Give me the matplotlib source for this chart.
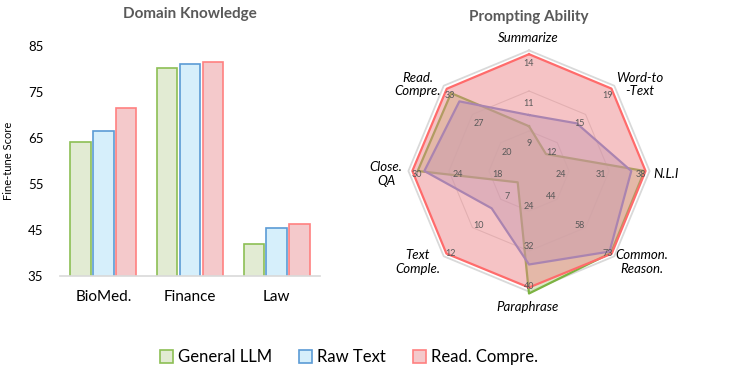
import numpy as np
import matplotlib
matplotlib.use("Agg")
import matplotlib.pyplot as plt
from matplotlib.patches import Patch

plt.rcParams['font.family'] = ['Lato', 'DejaVu Sans']

# ---------------- data ----------------
bar_categories = ["BioMed.", "Finance", "Law"]
series_names = ["General LLM", "Raw Text", "Read. Compre."]
bar_general = [64.1, 80.2, 41.9]
bar_raw = [66.5, 81.0, 45.4]
bar_read = [71.5, 81.5, 46.3]
bar_yticks = [35, 45, 55, 65, 75, 85]

radar_axes = ["Summarize", "Word-to\n-Text", "N.L.I", "Common.\nReason.",
              "Paraphrase", "Text\nComple.", "Close.\nQA", "Read.\nCompre."]
radar_min = [6.5, 8.5, 17.0, 29.5, 16.0, 4.5, 12.0, 13.5]     # value at centre
radar_max = [14.0, 19.0, 38.0, 73.0, 40.0, 12.0, 30.0, 33.0]  # value at outer ring
radar_ticks = [[9, 11, 14], [12, 15, 19], [24, 31, 38], [44, 58, 73],
               [24, 32, 40], [7, 10, 12], [18, 24, 30], [20, 27, 33]]
radar_general = [9.3, 10.6, 37.2, 71.5, 40.5, 5.5, 28.7, 31.4]
radar_raw = [10.0, 14.4, 34.9, 70.8, 34.7, 7.8, 27.7, 29.5]
radar_read = [13.8, 18.7, 37.4, 71.9, 39.3, 11.8, 29.5, 32.4]

# ---------------- styles ----------------
green_edge, green_fill = "#8cbf54", "#e2ebd3"
blue_edge, blue_fill = "#5b9bd5", "#d6effb"
red_edge, red_fill = "#ff8080", "#f4c9cb"
grey_txt = "#595959"

W, H = 747, 381
fig = plt.figure(figsize=(W / 100, H / 100), dpi=100)

# ---------------- bar chart ----------------
axb = fig.add_axes([60 / W, 1 - 276 / H, 260 / W, 230 / H])
x = np.arange(len(bar_categories))
bw, step = 0.235, 0.262
for off, vals, fc, ec in [(-step, bar_general, green_fill, green_edge),
                          (0, bar_raw, blue_fill, blue_edge),
                          (step, bar_read, red_fill, red_edge)]:
    axb.bar(x + off, vals, width=bw, color=fc, edgecolor=ec, linewidth=1.2, zorder=2)
axb.set_ylim(35, 85)
axb.set_xlim(-0.5, 2.5)
axb.set_yticks(bar_yticks)
axb.set_xticks(x)
axb.set_xticklabels(bar_categories, fontsize=11)
axb.tick_params(axis='y', length=0, pad=12, labelsize=9.5)
axb.tick_params(axis='x', length=0, pad=10)
for s in ['top', 'right', 'left']:
    axb.spines[s].set_visible(False)
axb.spines['bottom'].set_color("#d9d9d9")
axb.spines['bottom'].set_linewidth(1.2)
axb.set_ylabel("Fine-tune Score", fontsize=8, labelpad=10)
axb.set_title("Domain Knowledge", fontsize=11, fontweight='bold', color=grey_txt, pad=20)

# ---------------- radar chart ----------------
cx, cy, R = 529, 171, 120
half = 1.4 * R
axr = fig.add_axes([(cx - half) / W, (H - cy - half) / H, 2 * half / W, 2 * half / H])
axr.set_xlim(-1.4, 1.4)
axr.set_ylim(-1.4, 1.4)
axr.set_aspect('equal')
axr.axis('off')

n = len(radar_axes)
theta = np.arange(n) * 2 * np.pi / n
sx, sy = np.sin(theta), np.cos(theta)

def norm(vals):
    v = np.asarray(vals, float)
    return (v - np.asarray(radar_min)) / (np.asarray(radar_max) - np.asarray(radar_min))

def closed(a):
    return np.append(a, a[0])

# grid rings
for ring in [1 / 3, 2 / 3]:
    axr.plot(closed(ring * sx), closed(ring * sy), color="#d9d9d9", lw=0.8, zorder=1)
axr.plot(closed(1.005 * sx), closed(1.005 * sy), color="#d9d9d9", lw=1.3, zorder=1)

for vals, fc, ec, alpha, z in [(radar_general, "#cfe0b0", "#7cb342", 0.7, 2),
                               (radar_raw, "#a2a9d2", "#6f86d6", 0.45, 3),
                               (radar_read, "#ec8387", "#ff6b6b", 0.48, 4)]:
    r = norm(vals)
    xs, ys = closed(r * sx), closed(r * sy)
    axr.fill(xs, ys, color=fc, alpha=alpha, lw=0, zorder=z)
    axr.plot(xs, ys, color=ec, lw=1.6, zorder=z)

# tick labels
for i in range(n):
    for k, t in enumerate(radar_ticks[i]):
        rr = (k + 1) / 3 - 0.07
        axr.text(rr * sx[i], rr * sy[i] - 0.03, str(t), fontsize=6.5, color=grey_txt,
                 ha='center', va='center', zorder=6)

# axis label positions (layout, in radar units)
label_pos = [(-0.01, 1.11, 'center'), (0.925, 0.72, 'center'), (1.04, -0.025, 'left'),
             (0.94, -0.76, 'center'), (-0.01, -1.13, 'center'), (-0.925, -0.76, 'center'),
             (-1.19, -0.025, 'center'), (-0.93, 0.72, 'center')]
for lab, (lx, ly, ha) in zip(radar_axes, label_pos):
    axr.text(lx, ly, lab, fontsize=9.5, style='italic', ha=ha, va='center',
             multialignment='center', color='black', linespacing=1.15)

fig.text(cx / W, 1 - 17 / H, "Prompting Ability", fontsize=11, fontweight='bold',
         color=grey_txt, ha='center', va='center')

# ---------------- legend ----------------
handles = [Patch(facecolor=green_fill, edgecolor=green_edge, lw=1.2),
           Patch(facecolor=blue_fill, edgecolor=blue_edge, lw=1.2),
           Patch(facecolor=red_fill, edgecolor=red_edge, lw=1.2)]
fig.legend(handles, series_names, loc='center', bbox_to_anchor=(349 / W, 1 - 357 / H),
           ncol=3, frameon=False, fontsize=12, handlelength=0.8, handleheight=0.8,
           handletextpad=0.3, columnspacing=1.6)

fig.savefig("out.png", dpi=100)
